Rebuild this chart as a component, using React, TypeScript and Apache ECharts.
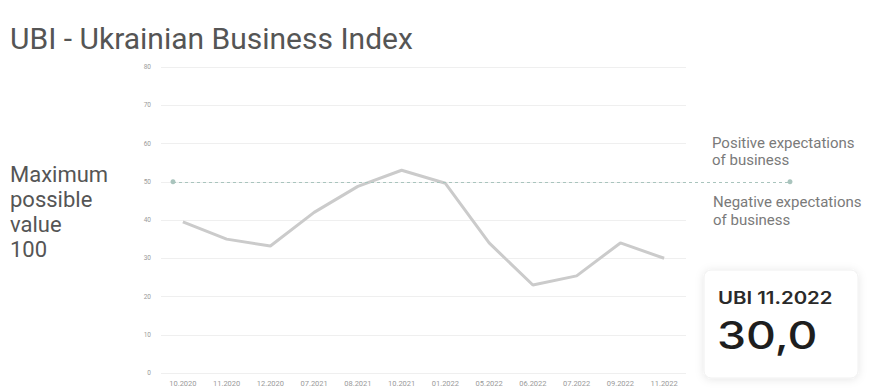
import React, { useEffect, useRef } from "react";
import * as echarts from "echarts";

const categories = ["10.2020", "11.2020", "12.2020", "07.2021", "08.2021", "10.2021", "01.2022", "05.2022", "06.2022", "07.2022", "09.2022", "11.2022"];
const ubiValues = [39.5, 35.0, 33.2, 42.0, 48.8, 53.0, 49.6, 34.0, 23.0, 25.4, 34.0, 30.0];
const yTicks = { min: 0, max: 80, interval: 10 };
const thresholdValue = 50;
const titleText = "UBI - Ukrainian Business Index";
const sideNote = "Maximum\npossible\nvalue\n100";
const positiveText = "Positive expectations\nof business";
const negativeText = "Negative expectations\nof business";
const boxLabel = "UBI 11.2022";
const boxValue = "30,0";

export default function App() {
  const ref = useRef<HTMLDivElement>(null);
  useEffect(() => {
    if (!ref.current) return;
    const chart = echarts.init(ref.current, null, { renderer: "svg" });
    chart.setOption({
      animation: false,
      backgroundColor: "#ffffff",
      grid: { left: 161, right: 187, top: 67, bottom: 16 },
      xAxis: {
        type: "category",
        data: categories,
        boundaryGap: true,
        axisLine: { show: false },
        axisTick: { show: false },
        axisLabel: { fontSize: 7.5, color: "#9a9a9a", margin: 6, fontFamily: "Roboto", interval: 0 },
      },
      yAxis: {
        type: "value",
        min: yTicks.min,
        max: yTicks.max,
        interval: yTicks.interval,
        axisLine: { show: false },
        axisTick: { show: false },
        axisLabel: { fontSize: 6.5, color: "#9a9a9a", margin: 10, fontFamily: "Roboto" },
        splitLine: { lineStyle: { color: "#efefef", width: 1 } },
      },
      series: [
        {
          type: "line",
          data: ubiValues,
          symbol: "none",
          lineStyle: { color: "#cbcbcb", width: 3 },
          markLine: {
            silent: true,
            symbol: ["circle", "circle"],
            symbolSize: 5,
            label: { show: false },
            lineStyle: { type: [3, 3], color: "#a9c4bd", width: 1.2 },
            itemStyle: { color: "#8fb3a8" },
            data: [[{ x: 173, yAxis: thresholdValue }, { x: 790, yAxis: thresholdValue }]],
          },
        },
      ],
      graphic: [
        {
          type: "text",
          left: 10,
          top: 23,
          style: { text: titleText, fontFamily: "Roboto", fontSize: 30, fill: "#555555" },
        },
        {
          type: "text",
          left: 10,
          top: 162,
          style: { text: sideNote, fontFamily: "Roboto", fontSize: 22, lineHeight: 25, fill: "#555555" },
        },
        {
          type: "text",
          left: 712,
          top: 134,
          style: { text: positiveText, fontFamily: "Roboto", fontSize: 15, lineHeight: 17, fill: "#7a7a7a" },
        },
        {
          type: "text",
          left: 713,
          top: 193,
          style: { text: negativeText, fontFamily: "Roboto", fontSize: 15, lineHeight: 18, fill: "#7a7a7a" },
        },
        {
          type: "rect",
          shape: { x: 704, y: 270, width: 154, height: 108, r: 7 },
          style: { fill: "#ffffff", stroke: "#f0f0f0", lineWidth: 1, shadowBlur: 8, shadowColor: "rgba(0,0,0,0.10)", shadowOffsetY: 1 },
        },
        {
          type: "text",
          x: 718,
          y: 290,
          scaleX: 1.2,
          style: { text: boxLabel, fontFamily: "Inter", fontSize: 17, fontWeight: 600, fill: "#2a2a2a" },
        },
        {
          type: "text",
          x: 717,
          y: 316,
          scaleX: 1.22,
          style: { text: boxValue, fontFamily: "Inter", fontSize: 38, fontWeight: 500, fill: "#1e1e1e" },
        },
      ],
    });
    return () => chart.dispose();
  }, []);
  return <div ref={ref} style={{ width: 873, height: 389, position: "fixed", left: 0, top: 0 }} />;
}
